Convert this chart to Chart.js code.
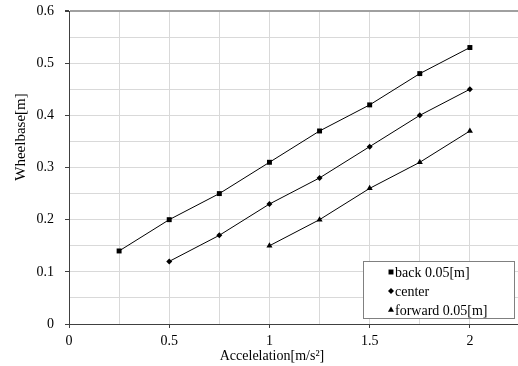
<!DOCTYPE html>
<html>
<head>
<meta charset="utf-8">
<script src="https://cdn.jsdelivr.net/npm/chart.js@4"></script>
<style>
  html, body { margin: 0; padding: 0; background: #fff; overflow: hidden; }
  canvas { display: block; }
</style>
</head>
<body>
<canvas id="chart" width="522" height="366"></canvas>
<script>
// values
const backX = [0.25, 0.5, 0.75, 1, 1.25, 1.5, 1.75, 2];
const backY = [0.14, 0.20, 0.25, 0.31, 0.37, 0.42, 0.48, 0.53];
const centerX = [0.5, 0.75, 1, 1.25, 1.5, 1.75, 2];
const centerY = [0.12, 0.17, 0.23, 0.28, 0.34, 0.40, 0.45];
const forwardX = [1, 1.25, 1.5, 1.75, 2];
const forwardY = [0.15, 0.20, 0.26, 0.31, 0.37];
const seriesLabels = ['back 0.05[m]', 'center', 'forward 0.05[m]'];
const xTitle = 'Accelelation[m/s²]';
const yTitle = 'Wheelbase[m]';

const toPoints = (xs, ys) => xs.map((x, i) => ({ x: x, y: ys[i] }));
const serif = 'Liberation Serif, Times New Roman, serif';
const isMult = (v, s) => Math.abs(v / s - Math.round(v / s)) < 1e-6;

function makeSet(label, xs, ys, style, r) {
    return {
        label: label,
        data: toPoints(xs, ys),
        borderColor: '#000',
        backgroundColor: '#000',
        borderWidth: 1,
        pointStyle: style,
        pointRadius: r,
        pointBorderWidth: 0,
        tension: 0
    };
}

// axis titles sit off-centre in the original, so draw them by hand
const axisTitles = {
    id: 'axisTitles',
    afterDraw(chart) {
        const ctx = chart.ctx;
        ctx.save();
        ctx.fillStyle = '#000';
        ctx.textAlign = 'center';
        ctx.textBaseline = 'alphabetic';
        ctx.font = '14px ' + serif;
        ctx.fillText(xTitle, 272, 360);
        ctx.translate(25, 137);
        ctx.rotate(-Math.PI / 2);
        ctx.font = '15px ' + serif;
        ctx.fillText(yTitle, 0, 0);
        ctx.restore();
    }
};

// legend drawn inside the plot area, lower right
const boxLegend = {
    id: 'boxLegend',
    afterDraw(chart) {
        const ctx = chart.ctx;
        const x = 363, y = 261, w = 151, h = 57;
        ctx.save();
        ctx.fillStyle = '#fff';
        ctx.fillRect(x, y, w, h);
        ctx.strokeStyle = '#808080';
        ctx.lineWidth = 1;
        ctx.strokeRect(x + 0.5, y + 0.5, w, h);
        ctx.font = '14px ' + serif;
        ctx.textBaseline = 'middle';
        chart.data.datasets.forEach((ds, i) => {
            const cy = y + 11 + i * 19;
            ctx.fillStyle = '#000';
            Chart.helpers.drawPoint(ctx, { pointStyle: ds.pointStyle, radius: ds.pointRadius, borderWidth: 0 }, 391, cy);
            ctx.fillText(ds.label, 395, cy + 1);
        });
        ctx.restore();
    }
};

new Chart(document.getElementById('chart'), {
    type: 'line',
    data: {
        datasets: [
            makeSet(seriesLabels[0], backX, backY, 'rect', 3.5),
            makeSet(seriesLabels[1], centerX, centerY, 'rectRot', 3),
            makeSet(seriesLabels[2], forwardX, forwardY, 'triangle', 3.5)
        ]
    },
    options: {
        responsive: false,
        animation: false,
        layout: { padding: { top: 11, right: 0, left: 0, bottom: 0 } },
        plugins: { legend: { display: false }, tooltip: { enabled: false } },
        scales: {
            x: {
                type: 'linear',
                min: 0,
                max: 2.24,
                afterFit(scale) {
                    scale.height = 42;
                    scale.paddingLeft = 0;
                    scale.paddingRight = 0;
                },
                afterBuildTicks(scale) {
                    const t = [];
                    for (let v = 0; v <= 2.2401; v += 0.25) t.push({ value: +v.toFixed(2) });
                    scale.ticks = t;
                },
                ticks: {
                    color: '#000',
                    font: { family: serif, size: 14 },
                    padding: 5,
                    maxRotation: 0,
                    autoSkip: false,
                    callback: v => isMult(v, 0.5) ? String(v) : ''
                },
                grid: {
                    color: '#d9d9d9',
                    tickLength: 4,
                    tickColor: c => isMult(c.tick.value, 0.5) ? '#404040' : 'rgba(0,0,0,0)'
                },
                border: { color: '#404040', width: 1 }
            },
            y: {
                min: 0,
                max: 0.6,
                afterFit(scale) {
                    scale.width = 69;
                    scale.paddingTop = 0;
                    scale.paddingBottom = 0;
                },
                afterBuildTicks(scale) {
                    const t = [];
                    for (let v = 0; v <= 0.6001; v += 0.05) t.push({ value: +v.toFixed(2) });
                    scale.ticks = t;
                },
                ticks: {
                    color: '#000',
                    font: { family: serif, size: 14 },
                    padding: 11,
                    autoSkip: false,
                    callback: v => isMult(v, 0.1) ? String(v) : ''
                },
                grid: {
                    color: c => c.tick.value >= 0.6 ? '#a0a0a0' : '#d9d9d9',
                    lineWidth: c => c.tick.value >= 0.6 ? 2 : 1,
                    tickLength: 4,
                    tickColor: c => isMult(c.tick.value, 0.1) ? '#404040' : 'rgba(0,0,0,0)'
                },
                border: { color: '#404040', width: 1 }
            }
        }
    },
    plugins: [axisTitles, boxLegend]
});
</script>
</body>
</html>
